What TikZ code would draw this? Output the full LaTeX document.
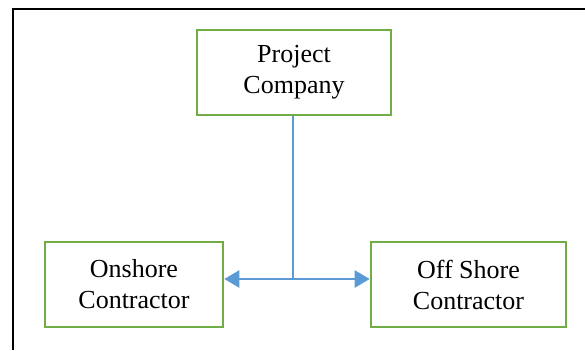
\documentclass[tikz,border=0pt]{standalone}
\usepackage{fontspec}
\setmainfont{Liberation Serif}
\usepackage{xcolor}
\usepackage{tikz}
\usetikzlibrary{arrows.meta}

\definecolor{boxgreen}{HTML}{70AD47}
\definecolor{linkblue}{HTML}{5B9BD5}

\begin{document}
\begin{tikzpicture}[
  x=1pt, y=-1pt,
  box/.style={draw=boxgreen, line width=2.6pt, minimum height=85pt, font=\fontsize{26}{31}\selectfont, align=center, inner sep=0pt},
  arr/.style={{Triangle[length=15pt, width=17pt]}-{Triangle[length=15pt, width=17pt]}, line width=2.6pt, linkblue}
]
\useasboundingbox (0,0) rectangle (585,350);
% frame
\draw[line width=2.8pt] (13,350) -- (13,9) -- (585,9);
\node[box, minimum width=194pt] (project) at (294, 72.5) {Project\\Company};
\node[box, minimum width=178pt] (onshore) at (134, 284.5) {Onshore\\Contractor};
\node[box, minimum width=195pt] (offshore) at (468.5, 284.5) {Off Shore\\Contractor};
\coordinate (split) at (293, 279);
\draw[linkblue, line width=1.4pt] (project.south -| split) -- (split);
\draw[arr] (onshore.east |- split) -- (offshore.west |- split);
\end{tikzpicture}
\end{document}
